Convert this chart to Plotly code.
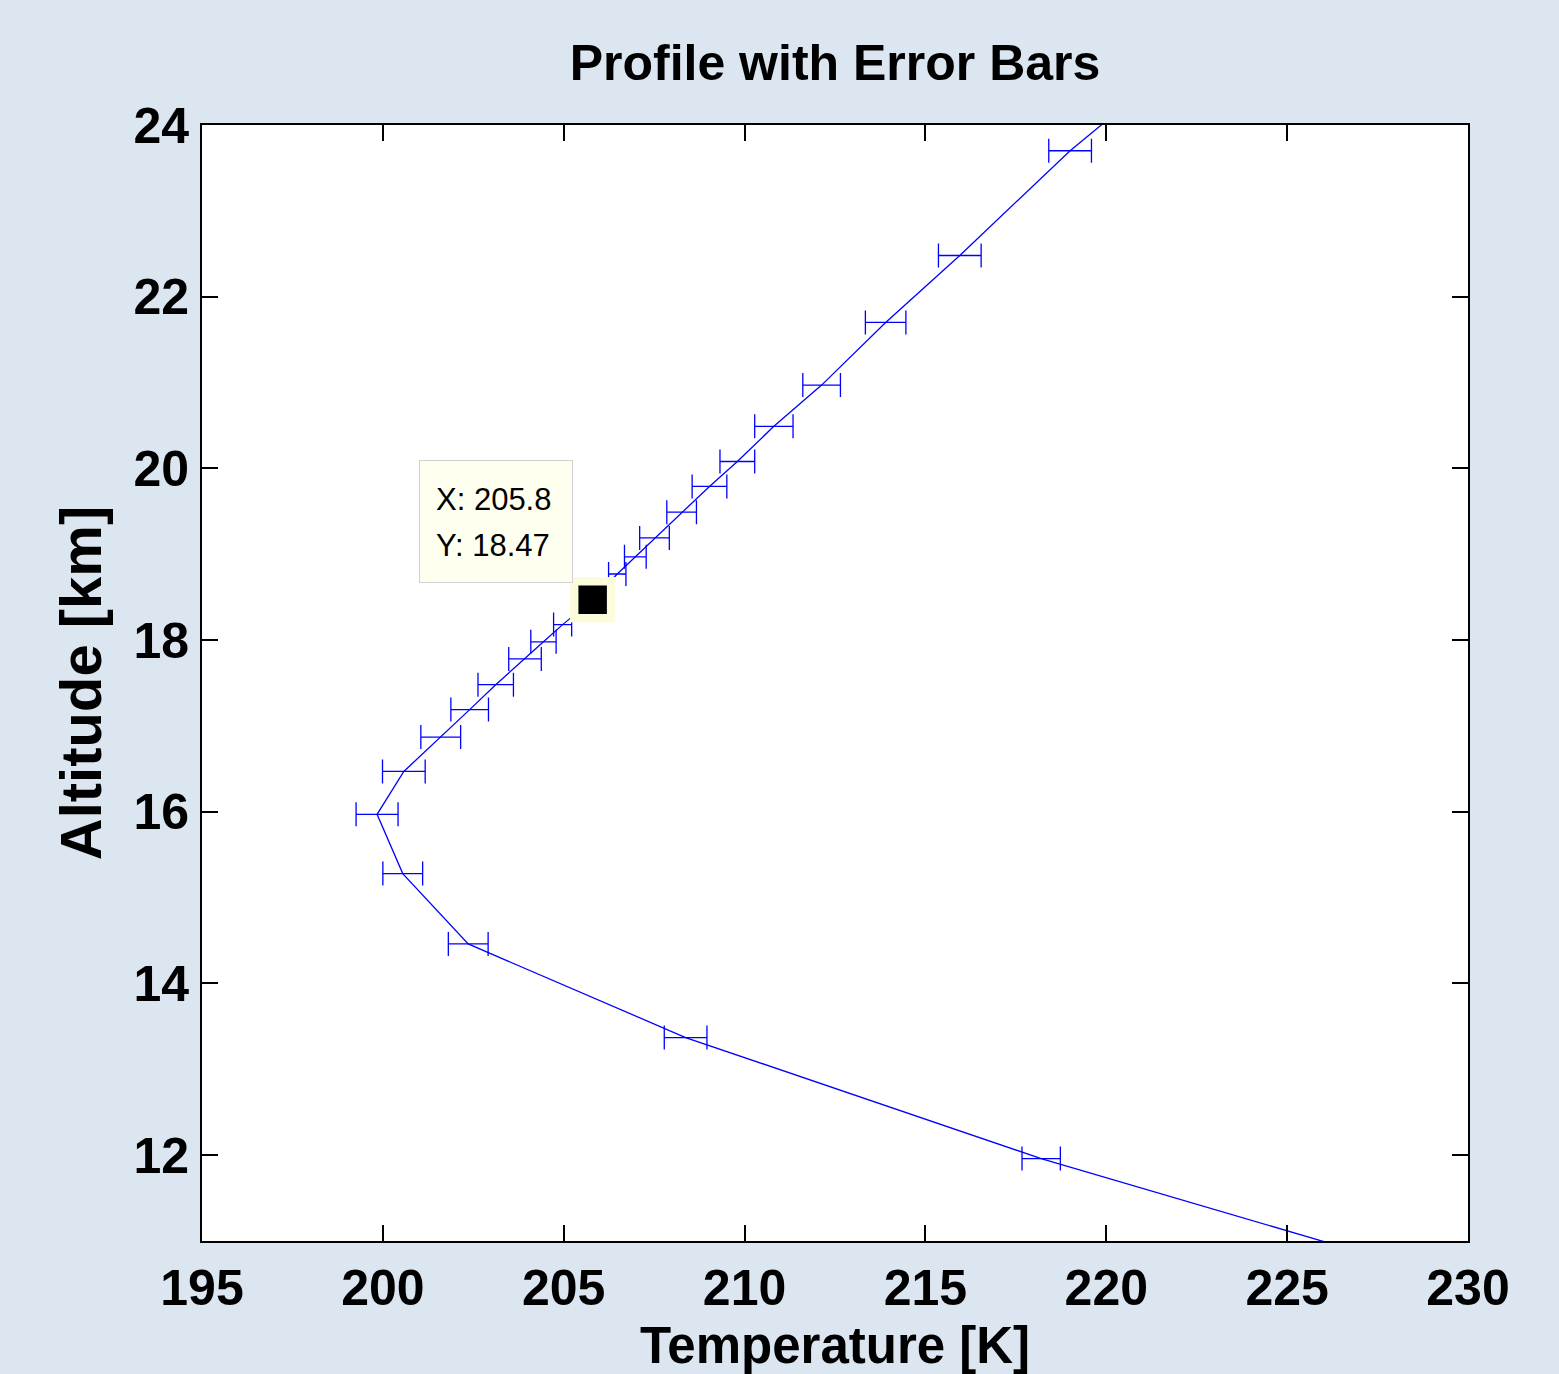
import plotly.graph_objects as go

# ---- data ----
altitude_km = [11.96, 13.37, 14.46, 15.28, 15.97, 16.47, 16.87, 17.19, 17.48, 17.78,
               17.98, 18.18, 18.47, 18.77, 18.97, 19.19, 19.49, 19.79, 20.08, 20.49,
               20.97, 21.70, 22.48, 23.70]
temperature_k = [218.2, 208.37, 202.36, 200.55, 199.84, 200.58, 201.60, 202.40, 203.12, 203.93,
                 204.44, 204.97, 205.8, 206.48, 206.98, 207.51, 208.26, 209.03, 209.80, 210.81,
                 212.13, 213.90, 215.95, 219.0]
temperature_err = [0.53, 0.59, 0.55, 0.55, 0.58, 0.59, 0.55, 0.52, 0.49, 0.45,
                   0.35, 0.25, 0.25, 0.24, 0.30, 0.41, 0.41, 0.48, 0.48, 0.53,
                   0.52, 0.56, 0.59, 0.59]
# profile points lying outside the visible axes (line only)
outside_alt_low = [10.5]
outside_temp_low = [230.0]
outside_alt_high = [24.5]
outside_temp_high = [221.3]

cursor_x = [205.8]
cursor_y = [18.47]

x_ticks = [195, 200, 205, 210, 215, 220, 225, 230]
y_ticks = [12, 14, 16, 18, 20, 22, 24]

BLUE = "#0000FF"
FONT = "Liberation Sans, Arial, sans-serif"

fig = go.Figure()

# full profile line
fig.add_trace(go.Scatter(
    x=outside_temp_low + temperature_k + outside_temp_high,
    y=outside_alt_low + altitude_km + outside_alt_high,
    mode="lines",
    line=dict(color=BLUE, width=1.3),
    hoverinfo="skip",
    showlegend=False,
))

# horizontal error bars
fig.add_trace(go.Scatter(
    x=temperature_k,
    y=altitude_km,
    mode="markers",
    marker=dict(size=1, color="rgba(0,0,0,0)"),
    error_x=dict(type="data", array=temperature_err, visible=True,
                 color=BLUE, thickness=1.3, width=12),
    showlegend=False,
))

# data cursor marker
fig.add_trace(go.Scatter(
    x=cursor_x, y=cursor_y,
    mode="markers",
    marker=dict(symbol="square", size=37, color="black",
                line=dict(color="#FCFCDC", width=8.5)),
    showlegend=False,
))

# data cursor tooltip box
fig.add_annotation(
    x=cursor_x[0], y=cursor_y[0], xref="x", yref="y",
    text=" ", showarrow=False,
    xanchor="right", yanchor="bottom", xshift=-20, yshift=17,
    width=152, height=121, borderpad=0, borderwidth=1,
    bgcolor="#FFFFF0", bordercolor="#D0D0D0",
    font=dict(size=10),
)
fig.add_annotation(
    x=cursor_x[0], y=cursor_y[0], xref="x", yref="y",
    text=f"X: {cursor_x[0]:.1f}", showarrow=False,
    xanchor="left", yanchor="middle", xshift=-158, yshift=100,
    borderpad=0, font=dict(family=FONT, size=31, color="black"),
)
fig.add_annotation(
    x=cursor_x[0], y=cursor_y[0], xref="x", yref="y",
    text=f"Y: {cursor_y[0]:.2f}", showarrow=False,
    xanchor="left", yanchor="middle", xshift=-158, yshift=54,
    borderpad=0, font=dict(family=FONT, size=31, color="black"),
)

axis_common = dict(
    showgrid=False, zeroline=False,
    showline=True, linecolor="black", linewidth=1.6, mirror="ticks",
    ticks="inside", ticklen=16, tickwidth=1.6, tickcolor="black",
    tickfont=dict(family=FONT, size=50, color="black", weight="bold"),
)

fig.update_layout(
    width=1559, height=1374,
    paper_bgcolor="#DCE6F1", plot_bgcolor="white",
    margin=dict(l=202, r=91, t=125, b=133, autoexpand=False),
    title=dict(text="<b>Profile with Error Bars</b>", x=0.5, xref="paper",
               y=1 - 62 / 1374, yref="container", yanchor="middle", xanchor="center",
               font=dict(family=FONT, size=50, color="black")),
    xaxis=dict(range=[195, 230], tickvals=x_ticks, ticktext=[str(v) for v in x_ticks],
               title=dict(text="<b>Temperature [K]</b>", standoff=18,
                          font=dict(family=FONT, size=51, color="black")),
               ticklabelstandoff=2, automargin=True,
               **axis_common),
    yaxis=dict(range=[11, 24], tickvals=y_ticks, ticktext=[str(v) for v in y_ticks],
               title=dict(text="<b>Altitude [km]</b>", standoff=13,
                          font=dict(family=FONT, size=58, color="black")),
               ticklabelstandoff=1,
               **axis_common),
)

fig.write_html("out.html")
